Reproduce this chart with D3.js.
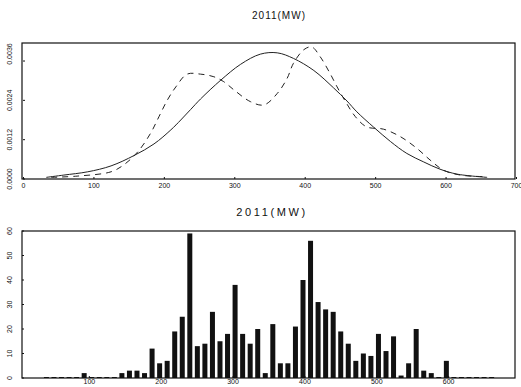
<!DOCTYPE html>
<html>
<head>
<meta charset="utf-8">
<script src="https://cdn.jsdelivr.net/npm/d3@7"></script>
<style>
  body { margin: 0; background: #fff; }
  svg text { font-family: "Liberation Sans", Arial, sans-serif; fill: #111; }
</style>
</head>
<body>
<div id="chart"></div>
<script>
// density curves (MW, density x 1e-3)
const normalMW  = [33, 58, 92, 125, 158, 186, 210, 224, 238, 252, 281, 309, 337, 361, 384, 413, 441, 460, 474, 498, 522, 545, 569, 592, 616, 659];
const normalVal = [0.05, 0.12, 0.22, 0.40, 0.72, 1.07, 1.50, 1.80, 2.12, 2.44, 3.02, 3.50, 3.81, 3.85, 3.68, 3.31, 2.78, 2.38, 2.05, 1.58, 1.14, 0.78, 0.52, 0.30, 0.15, 0.05];

const kernelMW  = [40, 78, 125, 143, 163, 181, 193, 205, 217, 233, 252, 271, 285, 300, 323, 342, 361, 375, 384, 399, 410, 422, 436, 446, 458, 472, 488, 512, 536, 559, 578, 597, 621, 659];
const kernelVal = [0.05, 0.09, 0.22, 0.43, 0.83, 1.39, 1.90, 2.41, 2.81, 3.20, 3.20, 3.12, 2.97, 2.71, 2.36, 2.26, 2.61, 3.07, 3.53, 3.95, 4.03, 3.73, 3.22, 2.81, 2.36, 1.90, 1.59, 1.52, 1.29, 0.94, 0.58, 0.27, 0.12, 0.07];

// histogram bins (centre, MW) and counts
const binMW = [41, 51.5, 62, 72.5, 83, 93.5, 104, 114.5, 125, 135.5,
  146, 156.5, 167, 177.5, 188, 198.5, 209, 219.5, 230, 240.5,
  251, 261.5, 272, 282.5, 293, 303.5, 314, 324.5, 335, 345.5,
  356, 366.5, 377, 387.5, 398, 408.5, 419, 429.5, 440, 450.5,
  461, 471.5, 482, 492.5, 503, 513.5, 524, 534.5, 545, 555.5,
  566, 576.5, 587, 597.5, 608, 618.5, 629, 639.5, 650, 660.5];
const binCount = [0, 0, 0, 0, 0, 2, 0, 0, 0, 0,
  2, 3, 3, 2, 12, 6, 7, 19, 25, 59,
  13, 14, 27, 15, 18, 38, 18, 14, 20, 2,
  22, 6, 6, 21, 40, 56, 31, 28, 27, 19,
  14, 7, 10, 9, 18, 11, 17, 1, 6, 20,
  3, 2, 0, 7, 0, 0, 0, 0, 0, 0];

const title = "2011(MW)";
const topXTicks = [0, 100, 200, 300, 400, 500, 600, 700];
const topYTicks = [0, 0.0012, 0.0024, 0.0036];
const botXTicks = [100, 200, 300, 400, 500, 600];
const botYTicks = [0, 10, 20, 30, 40, 50, 60];

const width = 521, height = 387;
const ink = "#111";

const svg = d3.select("#chart").append("svg")
  .attr("width", width)
  .attr("height", height);

function drawFrame(x0, x1, y0, y1) {
  svg.append("rect")
    .attr("x", x0).attr("y", y0)
    .attr("width", x1 - x0).attr("height", y1 - y0)
    .attr("fill", "none")
    .attr("stroke", ink)
    .attr("stroke-width", 1.2);
}

function drawTicks(x, y, xTicks, yTicks, fmtY, yLift, pad) {
  const [yb, yt] = y.range();
  // x ticks along the bottom
  svg.append("g")
    .attr("transform", "translate(0," + yb + ")")
    .call(d3.axisBottom(x).tickValues(xTicks).tickSize(-2).tickPadding(pad).tickFormat(d3.format("d")))
    .call(g => g.select(".domain").remove())
    .call(g => g.selectAll("line").attr("stroke", ink))
    .call(g => g.selectAll("text").attr("font-size", 7).attr("font-family", "Liberation Sans, Arial, sans-serif").attr("fill", ink));

  // y ticks, labels rotated
  const x0 = x.range()[0];
  svg.append("g").selectAll("line")
    .data(yTicks).enter().append("line")
    .attr("x1", x0).attr("x2", x0 + 2)
    .attr("y1", d => y(d)).attr("y2", d => y(d))
    .attr("stroke", ink);
  svg.append("g").selectAll("text")
    .data(yTicks).enter().append("text")
    .attr("transform", (d, i) => "translate(12," + (y(d) - (i === yTicks.length - 1 ? yLift : 0)) + ") rotate(-90)")
    .attr("text-anchor", "middle")
    .attr("font-size", 7)
    .text(fmtY);
}

// ---------- top: density ----------
const xTop = d3.scaleLinear().domain([0, 700]).range([23, 516]);
const yTop = d3.scaleLinear().domain([0, 0.00415]).range([179, 43]);

svg.append("text")
  .attr("x", 279).attr("y", 19)
  .attr("text-anchor", "middle")
  .attr("font-size", 10)
  .attr("letter-spacing", 1)
  .text(title);

const line = d3.line()
  .x(d => xTop(d[0]))
  .y(d => yTop(d[1] / 1000))
  .curve(d3.curveCatmullRom.alpha(0.5));

svg.append("path")
  .datum(d3.zip(normalMW, normalVal))
  .attr("d", line)
  .attr("fill", "none")
  .attr("stroke", "#222")
  .attr("stroke-width", 1);

svg.append("path")
  .datum(d3.zip(kernelMW, kernelVal))
  .attr("d", line)
  .attr("fill", "none")
  .attr("stroke", "#222")
  .attr("stroke-width", 1)
  .attr("stroke-dasharray", "6,5");

drawFrame(22, 515, 43, 179);
drawTicks(xTop, yTop, topXTicks, topYTicks, d3.format(".4f"), 7, 4);

// ---------- bottom: histogram ----------
const xBot = d3.scaleLinear().domain([7, 693]).range([22, 515]);
const yBot = d3.scaleLinear().domain([0, 60]).range([378, 231]);
const barW = 5;

svg.append("text")
  .attr("x", 272).attr("y", 216)
  .attr("text-anchor", "middle")
  .attr("font-size", 11)
  .attr("letter-spacing", 2.6)
  .text(title);

svg.append("g").selectAll("rect")
  .data(d3.zip(binMW, binCount))
  .enter().append("rect")
  .attr("x", d => xBot(d[0]) - barW / 2)
  .attr("y", d => Math.min(yBot(d[1]), yBot(0) - 1))
  .attr("width", barW)
  .attr("height", d => Math.max(1, yBot(0) - yBot(d[1])))
  .attr("fill", ink);

drawFrame(22, 515, 231, 378);
drawTicks(xBot, yBot, botXTicks, botYTicks, d3.format("d"), 0, 1);
</script>
</body>
</html>
